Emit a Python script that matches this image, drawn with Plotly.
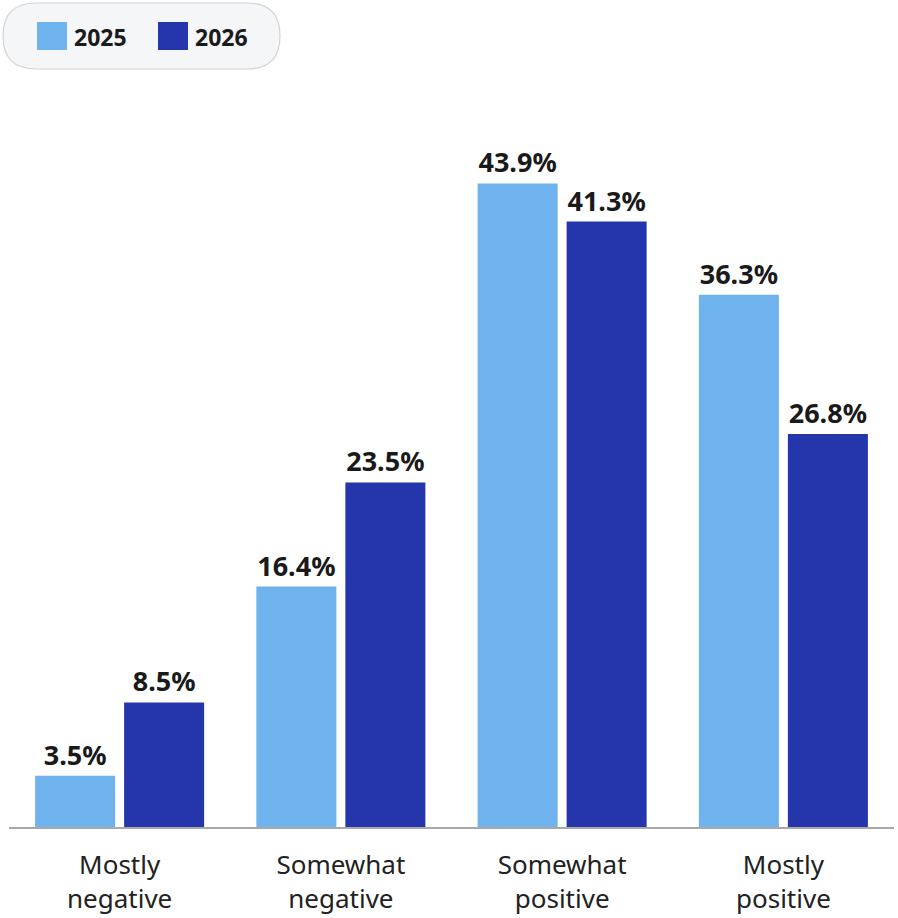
import plotly.graph_objects as go

# Survey sentiment shares by year
categories = ["Mostly<br>negative", "Somewhat<br>negative", "Somewhat<br>positive", "Mostly<br>positive"]
series_names = ["2025", "2026"]
values_2025 = [3.5, 16.4, 43.9, 36.3]
values_2026 = [8.5, 23.5, 41.3, 26.8]
series_colors = ["#6EB2EE", "#2536AD"]

W, H = 898, 918
M = dict(l=9, r=4, t=94, b=91)
PW = W - M["l"] - M["r"]
PH = H - M["t"] - M["b"]
FONT = "Noto Sans, Lato, sans-serif"


def px(x):
    return (x - M["l"]) / PW


def py(y):
    return 1 - (y - M["t"]) / PH


fig = go.Figure()
for name, vals, col in zip(series_names, [values_2025, values_2026], series_colors):
    fig.add_trace(go.Bar(
        x=categories, y=vals, name=name,
        marker=dict(color=col, line=dict(width=0)),
        texttemplate="%{y:.1f}%", textposition="outside", constraintext="none",
        textfont=dict(family=FONT, size=27, color="#1a1a1a", weight="bold"),
        cliponaxis=False, showlegend=False,
    ))

# Pill-shaped legend background
x0, x1, y0, y1, r = 3, 280, 3, 69, 33
path = (f"M {px(x0 + r)},{py(y0)} L {px(x1 - r)},{py(y0)} "
        f"Q {px(x1)},{py(y0)} {px(x1)},{py(y0 + r)} "
        f"Q {px(x1)},{py(y1)} {px(x1 - r)},{py(y1)} "
        f"L {px(x0 + r)},{py(y1)} "
        f"Q {px(x0)},{py(y1)} {px(x0)},{py(y1 - r)} "
        f"Q {px(x0)},{py(y0)} {px(x0 + r)},{py(y0)} Z")
shapes = [dict(type="path", path=path, xref="paper", yref="paper",
               fillcolor="#F5F6F8", line=dict(color="#D4D4D4", width=1.2), layer="above")]
annotations = []
for i, (name, col) in enumerate(zip(series_names, series_colors)):
    sx = 37 + i * 121
    shapes.append(dict(type="rect", xref="paper", yref="paper",
                       x0=px(sx), x1=px(sx + 30), y0=py(50), y1=py(22),
                       fillcolor=col, line=dict(width=0), layer="above"))
    annotations.append(dict(x=px(sx + 37), y=py(37), xref="paper", yref="paper",
                            text=name, showarrow=False, xanchor="left", yanchor="middle",
                            xshift=-2,
                            font=dict(family=FONT, size=23, color="#1a1a1a", weight="bold")))

fig.update_layout(
    width=W, height=H, margin=M,
    paper_bgcolor="white", plot_bgcolor="white",
    barmode="group", bargap=0.1955, bargroupgap=0.101,
    shapes=shapes, annotations=annotations,
    xaxis=dict(showline=True, linecolor="#A8A8A8", linewidth=2, ticks="",
               tickfont=dict(family=FONT, size=26, color="#222222"),
               ticklabelstandoff=14, automargin=False,
               showgrid=False, fixedrange=True),
    yaxis=dict(range=[0, 50], visible=False, showgrid=False, zeroline=False),
    font=dict(family=FONT),
)

fig.write_html("out.html")
